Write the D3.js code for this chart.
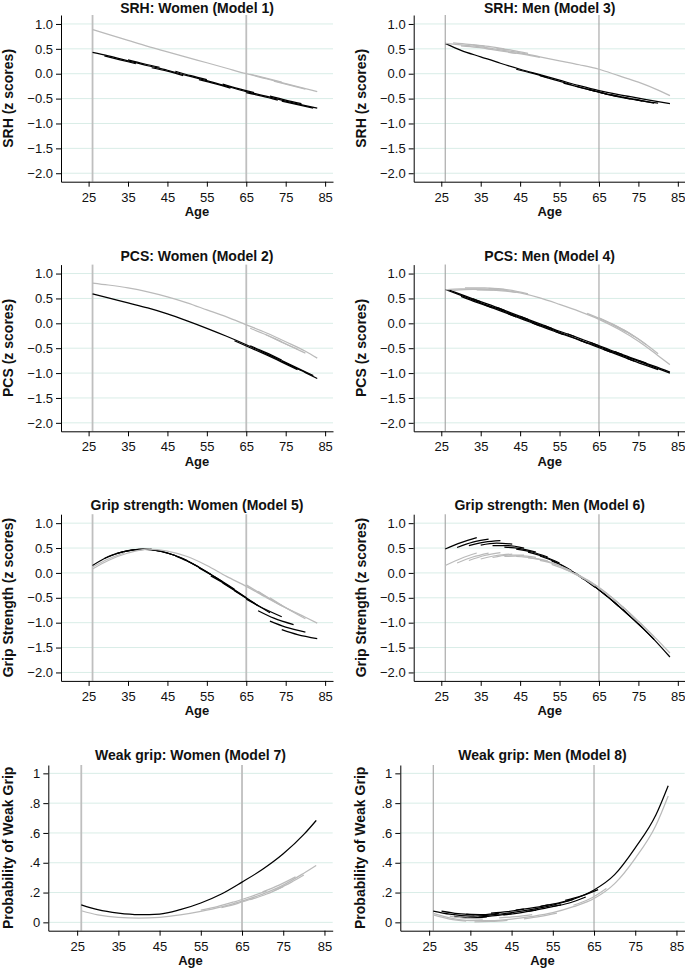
<!DOCTYPE html>
<html><head><meta charset="utf-8">
<script src="https://cdn.jsdelivr.net/npm/d3@7"></script>
<style>
body{margin:0;background:#fff;}
svg{display:block;font-family:"Liberation Sans",Arial,Helvetica,sans-serif;}
</style></head><body>
<svg id="chart" width="685" height="968"></svg>
<script>
// ---------- shared axes / labels ----------
const ageGrid = [26,30,35,40,45,50,55,60,65,70,75,80,83];
const xTicks = [25,35,45,55,65,75,85];
const refAges = [26,65];
const zTicks = [1,0.5,0,-0.5,-1,-1.5,-2];
const zTickLabels = ["1.0","0.5","0.0","\u22120.5","\u22121.0","\u22121.5","\u22122.0"];
const pTicks = [1,0.8,0.6,0.4,0.2,0];
const pTickLabels = ["1",".8",".6",".4",".2","0"];
const panelTitles = ["SRH: Women (Model 1)","SRH: Men (Model 3)","PCS: Women (Model 2)","PCS: Men (Model 4)",
  "Grip strength: Women (Model 5)","Grip strength: Men (Model 6)","Weak grip: Women (Model 7)","Weak grip: Men (Model 8)"];
const yTitles = ["SRH (z scores)","SRH (z scores)","PCS (z scores)","PCS (z scores)",
  "Grip Strength (z scores)","Grip Strength (z scores)","Probability of Weak Grip","Probability of Weak Grip"];

// ---------- main curves (values at ageGrid) ----------
const srhWomenBlack = [0.43,0.36,0.26,0.16,0.07,-0.04,-0.14,-0.25,-0.36,-0.45,-0.55,-0.64,-0.69];
const srhWomenGray  = [0.89,0.79,0.67,0.55,0.44,0.33,0.22,0.11,0.00,-0.10,-0.20,-0.30,-0.36];
const srhMenBlack   = [0.61,0.47,0.34,0.21,0.09,-0.02,-0.13,-0.24,-0.34,-0.42,-0.49,-0.56,-0.60];
const srhMenGray    = [0.61,0.58,0.54,0.48,0.42,0.34,0.26,0.18,0.09,-0.04,-0.17,-0.33,-0.44];
const pcsWomenBlack = [0.59,0.51,0.41,0.31,0.19,0.05,-0.10,-0.26,-0.43,-0.61,-0.80,-0.99,-1.11];
const pcsWomenGray  = [0.81,0.77,0.71,0.63,0.53,0.41,0.27,0.13,-0.03,-0.19,-0.37,-0.56,-0.70];
const pcsMenBlack   = [0.68,0.56,0.41,0.27,0.12,-0.03,-0.18,-0.33,-0.47,-0.62,-0.76,-0.91,-1.00];
const pcsMenGray    = [0.67,0.69,0.69,0.67,0.61,0.51,0.38,0.24,0.08,-0.12,-0.36,-0.65,-0.83];
const gripWomenGray = [0.08,0.25,0.40,0.48,0.44,0.33,0.15,-0.07,-0.27,-0.49,-0.70,-0.89,-1.01];
const weakWomenBlack = [0.118,0.085,0.062,0.052,0.056,0.085,0.13,0.19,0.27,0.356,0.46,0.59,0.684];
const weakWomenGray  = [0.078,0.05,0.033,0.029,0.034,0.05,0.074,0.104,0.143,0.19,0.25,0.33,0.382];
const weakMenBlack   = [0.076,0.055,0.042,0.05,0.065,0.087,0.115,0.155,0.217,0.32,0.50,0.72,0.917];
const weakMenGray    = [0.06,0.03,0.012,0.012,0.022,0.04,0.065,0.105,0.16,0.26,0.43,0.65,0.848];

// ---------- cohort segments [age, value] ----------
const srhWomenBlackCoh = [
 [[29,0.36],[33,0.28],[37,0.20]],[[35,0.28],[39,0.20],[43,0.13]],[[41,0.12],[45,0.05],[49,-0.04]],
 [[47,0.05],[51,-0.04],[55,-0.12]],[[53,-0.12],[57,-0.20],[61,-0.29]],[[59,-0.21],[63,-0.30],[67,-0.38]],
 [[65,-0.38],[69,-0.45],[73,-0.53]],[[71,-0.45],[75,-0.53],[79,-0.60]],[[74,-0.55],[78,-0.62],[82,-0.69]]];
const srhWomenGrayCoh = [[[66,-0.01],[70,-0.09],[74,-0.17]],[[72,-0.15],[76,-0.23],[80,-0.31]]];
const srhMenBlackCoh = [
 [[44,0.09],[48,0.01],[52,-0.08]],[[50,-0.04],[54,-0.13],[58,-0.22]],
 [[56,-0.19],[60,-0.27],[64,-0.35]],[[59,-0.25],[63,-0.33],[67,-0.41]],[[62,-0.31],[66,-0.39],[70,-0.46]],
 [[65,-0.37],[69,-0.45],[73,-0.51]],[[68,-0.42],[72,-0.49],[76,-0.55]],[[71,-0.47],[75,-0.53],[79,-0.59]],
 [[74,-0.51],[77,-0.56],[80,-0.59]]];
const srhMenGrayCoh = [
 [[28,0.62],[32,0.59],[36,0.55]],[[30,0.56],[34,0.53],[38,0.49]],[[33,0.58],[37,0.55],[41,0.50]],
 [[36,0.51],[40,0.46],[44,0.41]],[[39,0.51],[43,0.47],[47,0.41]],[[42,0.43],[46,0.39],[50,0.33]]];
const pcsWomenBlackCoh = [
 [[62,-0.35],[66,-0.49],[70,-0.63]],[[66,-0.45],[70,-0.59],[74,-0.74]],
 [[70,-0.63],[74,-0.78],[78,-0.93]],[[74,-0.75],[78,-0.90],[82,-1.05]]];
const pcsWomenGrayCoh = [
 [[66,-0.10],[70,-0.23],[74,-0.37]],[[70,-0.23],[74,-0.38],[78,-0.52]],[[72,-0.30],[76,-0.45],[80,-0.60]]];
const pcsMenBlackCoh = [
 [[27,0.67],[31,0.55],[35,0.43]],[[30,0.54],[34,0.42],[38,0.31]],[[33,0.49],[37,0.38],[41,0.26]],
 [[36,0.37],[40,0.25],[44,0.13]],[[39,0.32],[43,0.20],[47,0.08]],[[42,0.19],[46,0.07],[50,-0.05]],
 [[45,0.14],[49,0.02],[53,-0.10]],[[48,0.01],[52,-0.11],[56,-0.23]],[[51,-0.04],[55,-0.16],[59,-0.27]],
 [[54,-0.17],[58,-0.28],[62,-0.40]],[[57,-0.21],[61,-0.33],[65,-0.45]],[[60,-0.34],[64,-0.46],[68,-0.58]],
 [[63,-0.39],[67,-0.51],[71,-0.63]],[[66,-0.52],[70,-0.64],[74,-0.76]],[[69,-0.57],[73,-0.69],[77,-0.80]],
 [[72,-0.70],[76,-0.82],[80,-0.93]],[[75,-0.75],[79,-0.86],[83,-0.98]]];
const pcsMenGrayCoh = [
 [[28,0.66],[33,0.68],[38,0.67]],[[31,0.71],[36,0.71],[41,0.68]],[[34,0.67],[39,0.66],[44,0.62]],
 [[37,0.70],[42,0.67],[47,0.59]],[[62,0.20],[67,0.03],[72,-0.18]],[[65,0.11],[70,-0.08],[74,-0.27]],
 [[68,0.00],[73,-0.21],[77,-0.43]],[[71,-0.12],[76,-0.37],[80,-0.61]]];
const gripWomenBlackCoh = [
 [[26,0.15],[30,0.33],[35,0.45]],[[29,0.29],[33,0.41],[38,0.48]],[[32,0.39],[36,0.46],[41,0.48]],
 [[35,0.45],[39,0.48],[44,0.43]],[[38,0.48],[42,0.46],[47,0.35]],[[41,0.47],[45,0.40],[50,0.25]],
 [[44,0.42],[48,0.32],[53,0.12]],[[47,0.34],[51,0.20],[56,-0.03]],[[50,0.24],[54,0.07],[59,-0.18]],
 [[53,0.10],[57,-0.08],[62,-0.33]],[[56,-0.06],[60,-0.24],[65,-0.50]],[[59,-0.20],[63,-0.40],[68,-0.66]],
 [[62,-0.36],[66,-0.56],[71,-0.80]],[[65,-0.53],[69,-0.70],[74,-0.88]],[[68,-0.76],[72,-0.91],[77,-1.04]],
 [[71,-0.97],[75,-1.09],[80,-1.19]],[[74,-1.14],[78,-1.24],[83,-1.32]]];
const gripWomenGrayCoh = [
 [[26,0.12],[30,0.28],[34,0.40]],[[65,-0.24],[69,-0.43],[74,-0.66]],
 [[68,-0.37],[72,-0.57],[77,-0.78]],[[71,-0.50],[75,-0.70],[80,-0.92]]];
const gripMenBlackCoh = [
 [[26,0.48],[30,0.61],[34,0.71]],[[29,0.51],[33,0.62],[37,0.68]],[[32,0.55],[36,0.62],[40,0.65]],
 [[35,0.56],[39,0.60],[43,0.58]],[[38,0.55],[42,0.55],[46,0.50]],[[41,0.52],[45,0.49],[49,0.42]],
 [[44,0.48],[48,0.42],[52,0.32]],[[47,0.42],[51,0.33],[55,0.20]],[[50,0.34],[54,0.22],[58,0.05]],
 [[53,0.24],[57,0.09],[61,-0.12]],[[56,0.13],[60,-0.06],[64,-0.29]],[[59,0.00],[63,-0.22],[67,-0.47]],
 [[62,-0.16],[66,-0.40],[70,-0.67]],[[65,-0.34],[69,-0.60],[73,-0.88]],[[68,-0.53],[72,-0.81],[76,-1.10]],
 [[71,-0.73],[75,-1.03],[79,-1.34]],[[75,-1.02],[79,-1.34],[83,-1.69]]];
const gripMenGrayCoh = [
 [[26,0.15],[30,0.29],[34,0.40]],[[29,0.20],[33,0.32],[37,0.40]],[[32,0.25],[36,0.35],[40,0.41]],
 [[35,0.28],[39,0.35],[43,0.38]],[[38,0.31],[42,0.36],[46,0.36]],[[41,0.33],[45,0.34],[49,0.31]],
 [[44,0.33],[48,0.30],[52,0.24]],[[47,0.30],[51,0.25],[55,0.15]],[[50,0.25],[54,0.17],[58,0.04]],
 [[53,0.17],[57,0.05],[61,-0.11]],[[56,0.09],[60,-0.06],[64,-0.26]],[[59,-0.01],[63,-0.19],[67,-0.42]],
 [[62,-0.14],[66,-0.35],[70,-0.61]],[[65,-0.31],[69,-0.55],[73,-0.83]],[[68,-0.48],[72,-0.75],[76,-1.05]],
 [[71,-0.68],[75,-0.98],[79,-1.29]],[[75,-0.97],[79,-1.28],[83,-1.61]]];
const weakWomenGrayCoh = [
 [[55,0.082],[59,0.106],[63,0.137]],[[60,0.098],[64,0.128],[68,0.162]],[[63,0.136],[67,0.172],[71,0.211]],
 [[67,0.152],[71,0.19],[75,0.24]],[[70,0.205],[74,0.25],[78,0.305]],[[73,0.215],[77,0.27],[80,0.318]]];
const weakMenBlackCoh = [
 [[28,0.075],[32,0.058],[36,0.050]],[[31,0.040],[35,0.030],[39,0.036]],[[34,0.055],[38,0.052],[42,0.062]],
 [[37,0.035],[41,0.045],[45,0.058]],[[40,0.062],[44,0.072],[48,0.088]],[[43,0.050],[47,0.064],[51,0.082]],
 [[46,0.082],[50,0.097],[54,0.118]],[[49,0.074],[53,0.094],[57,0.117]],[[52,0.108],[56,0.128],[60,0.154]],
 [[55,0.107],[59,0.13],[63,0.17]],[[58,0.148],[62,0.178],[66,0.22]]];
const weakMenGrayCoh = [
 [[26,0.05],[30,0.022],[34,0.008]],[[30,0.042],[34,0.026],[38,0.022]],[[36,0.004],[40,0.006],[44,0.014]],
 [[42,0.03],[46,0.038],[50,0.052]],[[48,0.024],[52,0.04],[56,0.062]],[[60,0.115],[64,0.158],[68,0.228]]];

const blackMain = [srhWomenBlack,srhMenBlack,pcsWomenBlack,pcsMenBlack,null,null,weakWomenBlack,weakMenBlack];
const grayMain  = [srhWomenGray,srhMenGray,pcsWomenGray,pcsMenGray,gripWomenGray,null,weakWomenGray,weakMenGray];
const blackCoh  = [srhWomenBlackCoh,srhMenBlackCoh,pcsWomenBlackCoh,pcsMenBlackCoh,gripWomenBlackCoh,gripMenBlackCoh,[],weakMenBlackCoh];
const grayCoh   = [srhWomenGrayCoh,srhMenGrayCoh,pcsWomenGrayCoh,pcsMenGrayCoh,gripWomenGrayCoh,gripMenGrayCoh,weakWomenGrayCoh,weakMenGrayCoh];

// ---------- drawing ----------
const svg = d3.select("#chart");
const BLACK = "#000", GRAY = "#bababa", GRID = "#d9ede7";

panelTitles.forEach((title, i) => {
  const row = Math.floor(i / 2), col = i % 2;
  const prob = row === 3;
  const x0 = prob ? (col ? 400.3 : 48.3) : (col ? 413.7 : 61);
  const w = prob ? 284.4 : 272;
  const top = prob ? 765 : 15 + 249.6 * row;
  const bottom = prob ? 930.7 : top + 166.7;
  const x = d3.scaleLinear().domain([18, 87]).range([x0, x0 + w]);
  const y = d3.scaleLinear().domain(prob ? [-0.056, 1.056] : [-2.17, 1.18]).range([bottom, top]);
  const ticks = prob ? pTicks : zTicks;
  const labels = prob ? pTickLabels : zTickLabels;
  const g = svg.append("g");

  g.selectAll("line.grid").data(ticks).join("line").attr("class", "grid")
    .attr("x1", x0).attr("x2", x0 + w).attr("y1", d => y(d)).attr("y2", d => y(d))
    .attr("stroke", GRID).attr("stroke-width", 1);

  g.selectAll("line.ref").data(refAges).join("line").attr("class", "ref")
    .attr("x1", d => x(d)).attr("x2", d => x(d)).attr("y1", top).attr("y2", bottom)
    .attr("stroke", col ? "#a3a3a3" : "#bfbfbf").attr("stroke-width", col ? 1.1 : 1.8);

  const line = d3.line().x(d => x(d[0])).y(d => y(d[1])).curve(d3.curveMonotoneX);
  const draw = (segs, color) => {
    g.append("g").selectAll("path").data(segs).join("path")
      .attr("d", line).attr("fill", "none").attr("stroke", color)
      .attr("stroke-width", 1.25).attr("stroke-linecap", "butt");
  };
  const mainSeg = vals => vals ? [ageGrid.map((a, k) => [a, vals[k]])] : [];
  draw(mainSeg(blackMain[i]).concat(blackCoh[i]), BLACK);
  draw(mainSeg(grayMain[i]).concat(grayCoh[i]), GRAY);

  const ya = g.append("g").attr("transform", `translate(${x0},0)`)
    .call(d3.axisLeft(y).tickValues(ticks).tickFormat((d, j) => labels[j])
      .tickSize(5).tickPadding(3).tickSizeOuter(0));
  const xa = g.append("g").attr("transform", `translate(0,${bottom})`)
    .call(d3.axisBottom(x).tickValues(xTicks).tickFormat(d3.format("d"))
      .tickSize(5).tickPadding(5.6).tickSizeOuter(0));
  [ya, xa].forEach(a => {
    a.attr("font-family", null).attr("font-size", null);
    a.select(".domain").attr("stroke", "#000").attr("stroke-width", 1);
    a.selectAll(".tick line").attr("stroke", "#000").attr("stroke-width", 1);
    a.selectAll(".tick text").attr("font-size", 13).attr("fill", "#111");
  });

  g.append("text").attr("x", x0 + w / 2).attr("y", Math.max(y(1) - 13, 13))
    .attr("text-anchor", "middle").attr("font-size", 14).attr("font-weight", 700).attr("fill", "#111")
    .text(title);
  g.append("text").attr("x", x0 + w / 2).attr("y", bottom + 34.5)
    .attr("text-anchor", "middle").attr("font-size", 13).attr("font-weight", 700).attr("fill", "#111")
    .text("Age");
  const tx = x0 - (prob ? 35.1 : 48), ty = (top + bottom) / 2;
  g.append("text").attr("transform", `translate(${tx},${ty}) rotate(-90)`)
    .attr("text-anchor", "middle").attr("font-size", 14).attr("font-weight", 700).attr("fill", "#111")
    .text(yTitles[i]);
});
</script>
</body></html>
